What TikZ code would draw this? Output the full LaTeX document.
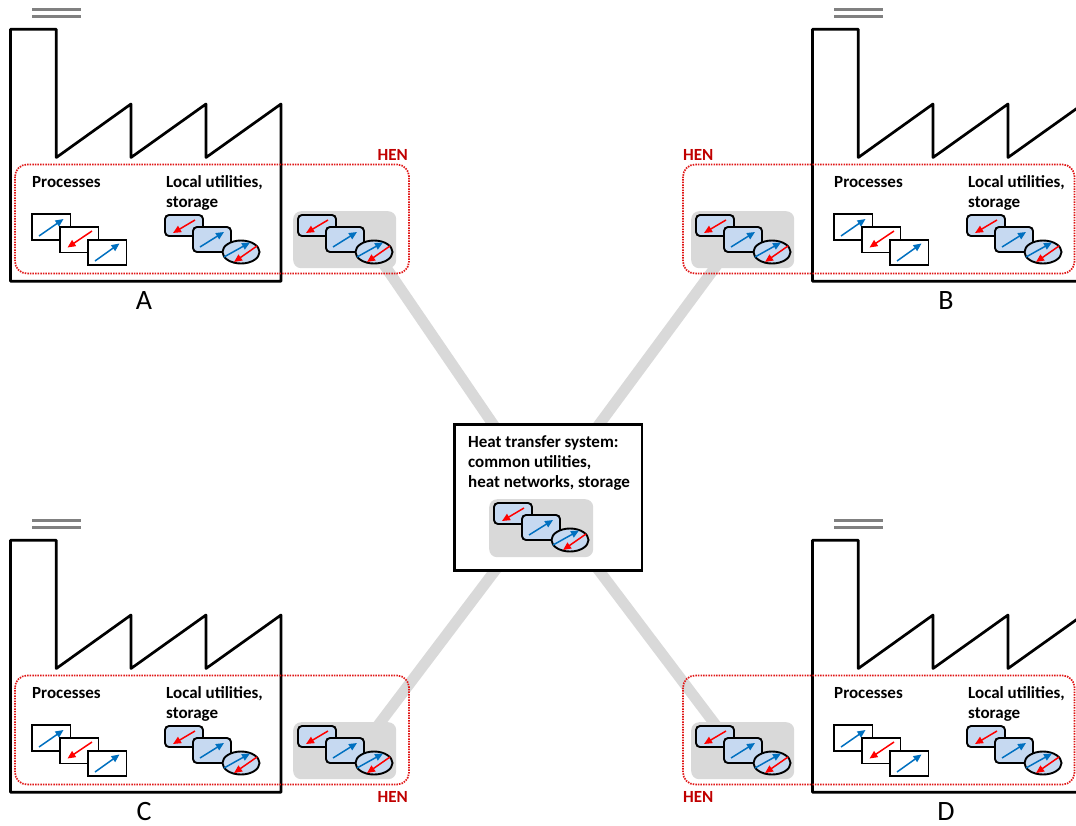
\documentclass[tikz,border=0pt]{standalone}
\usepackage{fontspec}
\setmainfont{Carlito}
\usetikzlibrary{arrows.meta}

\definecolor{hotred}{HTML}{FF0000}
\definecolor{coldblue}{HTML}{0070C0}
\definecolor{utilfill}{HTML}{C6D9F1}
\definecolor{panelgray}{HTML}{D9D9D9}
\definecolor{hendark}{HTML}{C00000}
\definecolor{hendot}{HTML}{E01818}
\definecolor{capgray}{HTML}{808080}

\tikzset{
  wall/.style={line width=2.7pt, line join=round},
  capline/.style={capgray, line width=3.4pt},
  henbox/.style={hendot, line width=1.7pt, dash pattern=on 1.5pt off 1.1pt, rounded corners=12pt},
  panel/.style={fill=panelgray, rounded corners=8pt, inner sep=0pt, anchor=north west},
  link/.style={panelgray, line width=11pt},
  procbox/.style={draw=black, fill=white, line width=1.9pt},
  utilbox/.style={draw=black, fill=utilfill, line width=1.9pt, rounded corners=4pt},
  utilell/.style={draw=black, fill=utilfill, line width=1.9pt},
  hotarr/.style={hotred, line width=1.5pt, -{Triangle[length=8pt,width=7pt]}},
  coldarr/.style={coldblue, line width=1.5pt, -{Triangle[length=8pt,width=7pt]}},
  txt/.style={font=\fontsize{17}{20}\selectfont\bfseries, inner sep=0pt, anchor=base west},
  hentxt/.style={font=\fontsize{17}{20}\selectfont\bfseries, text=hendark, inner sep=0pt},
  site/.style={font=\fontsize{28}{30}\selectfont, inner sep=0pt, anchor=base},
}

% three process heat exchangers, top-left corner at #1
\newcommand\ProcIcons[1]{%
  \begin{scope}[shift={#1}]
    \draw[procbox] (0,0) rectangle (38.5,26);
    \draw[coldarr] (7,22) -- (31.5,5);
    \draw[procbox] (28,13) rectangle (66.5,38.5);
    \draw[hotarr] (60,17) -- (35.5,33.5);
    \draw[procbox] (56,26) rectangle (94.5,51);
    \draw[coldarr] (63,47) -- (87.5,29.5);
  \end{scope}}

% utility units and a storage tank, top-left corner at #1
\newcommand\UtilIcons[1]{%
  \begin{scope}[shift={#1}]
    \draw[utilbox] (0,0) rectangle (38,21);
    \draw[hotarr] (30,5) -- (8,18);
    \draw[utilbox] (28,12) rectangle (66,37);
    \draw[coldarr] (35,32) -- (59,17);
    \draw[utilell] (76,37) ellipse [x radius=18.5pt, y radius=11.5pt];
    \draw[coldarr] (59,42) -- (85,27.5);
    \draw[hotarr] (92,31) -- (69,47);
  \end{scope}}

\begin{document}
\begin{tikzpicture}[x=1pt,y=-1pt]
\useasboundingbox (0,0) rectangle (1076,825);
\clip (0,0) rectangle (1076,825);

% links between the site heat exchanger networks and the common system
\coordinate (endA) at (374,250);  \coordinate (hubA) at (497,430);
\coordinate (endB) at (728,250);  \coordinate (hubB) at (595,430);
\coordinate (endC) at (367,740);  \coordinate (hubC) at (503,560);
\coordinate (endD) at (727,740);  \coordinate (hubD) at (591,560);
\draw[link] (endA) -- (hubA);
\draw[link] (endB) -- (hubB);
\draw[link] (endC) -- (hubC);
\draw[link] (endD) -- (hubD);

% factory buildings with their chimneys
\foreach \dx/\dy in {0/0, 802/0, 0/511, 802/511}{
  \begin{scope}[shift={(\dx,\dy)}]
    \draw[wall] (10.5,29.3) -- (56.3,29.3) -- (56.3,157.5) -- (131,104) -- (131,157.5)
      -- (206,104) -- (206,157.5) -- (281,104) -- (281,281.3) -- (10.5,281.3) -- cycle;
    \draw[capline] (32,9.5) -- (81,9.5) (32,16.5) -- (81,16.5);
  \end{scope}}

% heat exchanger network boundaries
\draw[henbox] (15,164.5) rectangle (409,273.5);
\draw[henbox] (683,164.5) rectangle (1074.5,273.5);
\draw[henbox] (15,675.5) rectangle (409,784.5);
\draw[henbox] (683,675.5) rectangle (1074.5,784.5);

% grey panels holding the network exchangers
\node[panel, minimum width=103pt, minimum height=57pt] (panA) at (293,211) {};
\node[panel, minimum width=103pt, minimum height=57pt] (panB) at (691,211) {};
\node[panel, minimum width=103pt, minimum height=57pt] (panC) at (293,722) {};
\node[panel, minimum width=103pt, minimum height=57pt] (panD) at (691,722) {};

% central heat transfer system
\node[draw, line width=2.5pt, fill=white, anchor=north west, inner sep=0pt,
      minimum width=187.5pt, minimum height=146pt] (hts) at (453,423) {};
\node[panel, minimum width=104pt, minimum height=58pt] (panHub) at (489,499) {};
\node[txt] (hubT1) at (468,447) {Heat transfer system:};
\node[txt] (hubT2) at (468,467) {common utilities,};
\node[txt] (hubT3) at (468,487) {heat networks, storage};
\UtilIcons{(494,503)}

% site contents
\ProcIcons{(32,214)}   \ProcIcons{(834,214)}
\ProcIcons{(32,725)}   \ProcIcons{(834,725)}
\UtilIcons{(165,215)}  \UtilIcons{(967,215)}
\UtilIcons{(165,726)}  \UtilIcons{(967,726)}
\UtilIcons{(298,215)}  \UtilIcons{(696,215)}
\UtilIcons{(298,726)}  \UtilIcons{(696,726)}

\node[txt] (procA) at (32,187) {Processes};
\node[txt] (locA1) at (166,187) {Local utilities,};
\node[txt] (locA2) at (166,207.5) {storage};
\node[txt] (procB) at (834,187) {Processes};
\node[txt] (locB1) at (968,187) {Local utilities,};
\node[txt] (locB2) at (968,207.5) {storage};
\node[txt] (procC) at (32,698) {Processes};
\node[txt] (locC1) at (166,698) {Local utilities,};
\node[txt] (locC2) at (166,718.5) {storage};
\node[txt] (procD) at (834,698) {Processes};
\node[txt] (locD1) at (968,698) {Local utilities,};
\node[txt] (locD2) at (968,718.5) {storage};

% network labels
\node[hentxt, anchor=base east] (henA) at (408,160) {HEN};
\node[hentxt, anchor=base west] (henB) at (683,160) {HEN};
\node[hentxt, anchor=base east] (henC) at (408,802) {HEN};
\node[hentxt, anchor=base west] (henD) at (683,802) {HEN};

% site names
\node[site] (siteA) at (144,309) {A};
\node[site] (siteB) at (946,309) {B};
\node[site] (siteC) at (144,820) {C};
\node[site] (siteD) at (946,820) {D};
\end{tikzpicture}
\end{document}
